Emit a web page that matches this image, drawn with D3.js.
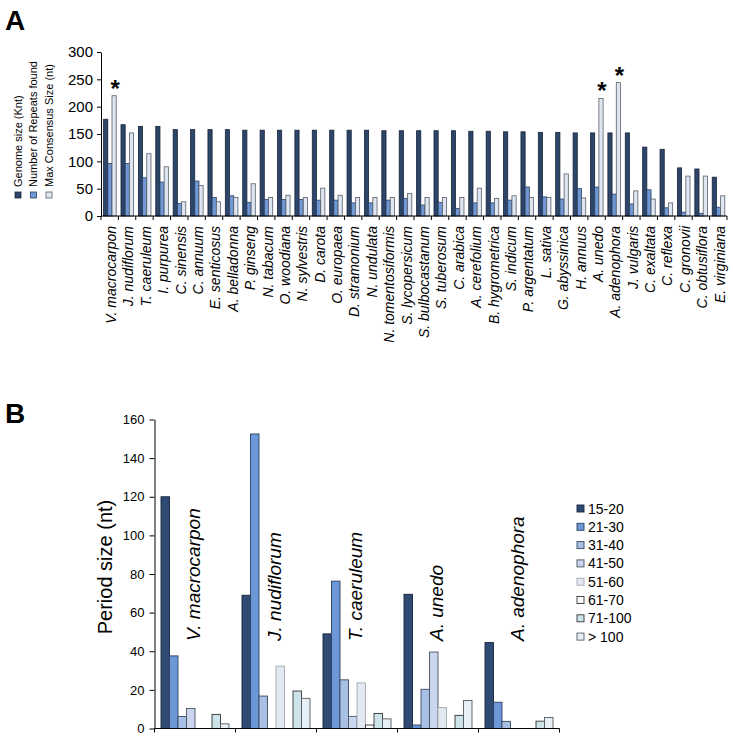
<!DOCTYPE html>
<html>
<head>
<meta charset="utf-8">
<script src="https://cdn.jsdelivr.net/npm/d3@7"></script>
<style>
  html, body { margin: 0; padding: 0; background: #fff; }
  svg { display: block; font-family: "Liberation Sans", Arial, Helvetica, sans-serif; }
</style>
</head>
<body>
<svg id="chart" width="733" height="739"></svg>
<script>
// ---------------- Panel A data ----------------
const speciesA = ["V. macrocarpon","J. nudiflorum","T. caeruleum","I. purpurea","C. sinensis","C. annuum",
  "E. senticosus","A. belladonna","P. ginseng","N. tabacum","O. woodiana","N. sylvestris","D. carota",
  "O. europaea","D. stramonium","N. undulata","N. tomentosiformis","S. lycopersicum","S. bulbocastanum",
  "S. tuberosum","C. arabica","A. cerefolium","B. hygrometrica","S. indicum","P. argentatum","L. sativa",
  "G. abyssinica","H. annuus","A. unedo","A. adenophora","J. vulgaris","C. exaltata","C. reflexa",
  "C. gronovii","C. obtusiflora","E. virginiana"];
const genomeSize = [177,167,164,164,158,158,158,158,157,157,157,157,157,157,157,157,156,156,156,156,
  156,155,155,154,154,153,153,152,152,152,152,126,122,88,86,71];
const repeatsFound = [96,96,70,62,23,64,34,37,25,30,30,30,29,29,24,24,29,32,20,25,
  14,24,24,29,53,35,31,50,53,40,22,48,15,7,5,16];
const maxConsensus = [220,152,114,90,26,56,26,34,59,34,38,34,51,38,34,34,34,41,34,34,
  34,51,32,37,34,34,77,33,215,244,46,31,24,73,73,37];
const starredA = ["V. macrocarpon","A. unedo","A. adenophora"];
const seriesA = ["Genome size (Knt)","Number of Repeats found","Max Consensus Size (nt)"];
const yTicksA = [0,50,100,150,200,250,300];

// ---------------- Panel B data ----------------
const speciesB = ["V. macrocarpon","J. nudiflorum","T. caeruleum","A. unedo","A. adenophora"];
const periodClasses = ["15-20","21-30","31-40","41-50","51-60","61-70","71-100","> 100"];
const p15_20  = [120, 69, 49, 69.5, 44.5];
const p21_30  = [37.6, 152.5, 76.3, 1.8, 13.6];
const p31_40  = [6.2, 16.8, 25.2, 20.3, 3.7];
const p41_50  = [10.4, 0, 6.3, 39.6, 0];
const p51_60  = [0, 32.3, 23.6, 10.9, 0];
const p61_70  = [0, 0, 1.8, 0, 0];
const p71_100 = [7.3, 19.4, 7.8, 6.8, 3.8];
const pOver100 = [2.4, 15.6, 5.0, 14.5, 5.7];
const yTicksB = [0,20,40,60,80,100,120,140,160];

// ---------------- styles ----------------
const fillA = ["#2d4569","#7098d4","#dde6f2"];
const strokeA = ["#17243a","#2b3f60","#5a5f66"];
const fillB = ["#2f4b73","#6d98d8","#a8bfe6","#c9d6ee","#e3e9f3","#ffffff","#cde3ea","#e6f0f6"];
const strokeB = ["#17243a","#2b3f60","#3c4a60","#4a5260","#a4a8ae","#333333","#333333","#555a60"];

const svg = d3.select("#chart");
svg.append("rect").attr("width",733).attr("height",739).attr("fill","#fff");

// Panel letters
svg.append("text").attr("x",5).attr("y",30).attr("font-size",28).attr("font-weight","bold").text("A");
svg.append("text").attr("x",5).attr("y",423).attr("font-size",28).attr("font-weight","bold").text("B");

// ================= Panel A =================
const gA = svg.append("g");
const xA = d3.scaleBand().domain(speciesA).range([101, 727]).padding(0);
const xAin = d3.scaleBand().domain(seriesA).range([2.6, 15.2]).padding(0);
const yA = d3.scaleLinear().domain([0,300]).range([216, 52]);
const seriesValsA = [genomeSize, repeatsFound, maxConsensus];

const rowsA = speciesA.map((s,i) => ({s, vals: seriesValsA.map(a => a[i])}));
const grpA = gA.selectAll("g.grp").data(rowsA).join("g")
  .attr("transform", d => `translate(${xA(d.s)},0)`);
grpA.selectAll("rect").data(d => d.vals.map((v,k) => ({k, v}))).join("rect")
  .attr("x", d => xAin(seriesA[d.k]))
  .attr("width", xAin.bandwidth())
  .attr("y", d => yA(d.v))
  .attr("height", d => yA(0) - yA(d.v))
  .attr("fill", d => fillA[d.k])
  .attr("stroke", d => strokeA[d.k])
  .attr("stroke-width", 0.8);

// asterisks
gA.selectAll("text.star").data(starredA).join("text")
  .attr("class","star")
  .attr("x", s => xA(s) + xAin(seriesA[2]) + xAin.bandwidth()/2 + 1)
  .attr("y", s => yA(maxConsensus[speciesA.indexOf(s)]) + 1)
  .attr("text-anchor","middle")
  .attr("font-size",24).attr("font-weight","bold")
  .text("*");

// y axis A
const yAxisA = gA.append("g").attr("transform","translate(101,0)")
  .call(d3.axisLeft(yA).tickValues(yTicksA).tickSize(4).tickPadding(4).tickSizeOuter(0));
yAxisA.selectAll("text").attr("font-size",15).attr("fill","#000");
yAxisA.selectAll("line,path").attr("stroke","#000");

// x axis A
gA.append("line").attr("x1",101).attr("x2",727).attr("y1",yA(0)).attr("y2",yA(0)).attr("stroke","#000");
const bndA = speciesA.map(s => xA(s)).concat([xA(speciesA[speciesA.length-1]) + xA.bandwidth()]);
gA.selectAll("line.tk").data(bndA).join("line").attr("class","tk")
  .attr("x1", d => d).attr("x2", d => d)
  .attr("y1", yA(0)).attr("y2", yA(0) + 4).attr("stroke","#000");
gA.selectAll("text.lab").data(speciesA).join("text").attr("class","lab")
  .attr("transform", s => `translate(${xA(s) + xA.bandwidth()/2},226) rotate(-90)`)
  .attr("dy","0.45em")
  .attr("text-anchor","end")
  .attr("font-size",14).attr("font-style","italic")
  .text(s => s);

// legend A (rotated)
const legA = gA.append("g");
seriesA.forEach((name, k) => {
  const cx = 18 + k*15.5;
  legA.append("rect").attr("x", cx - 3).attr("y", 192).attr("width",6).attr("height",6)
    .attr("fill", fillA[k]).attr("stroke", strokeA[k]).attr("stroke-width",0.8);
  legA.append("text")
    .attr("transform", `translate(${cx},187) rotate(-90)`)
    .attr("dy","0.35em")
    .attr("font-size",11)
    .text(name);
});

// ================= Panel B =================
const gB = svg.append("g");
const xB = d3.scaleBand().domain(speciesB).range([154.5, 559.5]).padding(0);
const xBin = d3.scaleBand().domain(periodClasses).range([6.5, 74.5]).padding(0);
const yB = d3.scaleLinear().domain([0,160]).range([728.5, 419.5]);
const seriesValsB = [p15_20, p21_30, p31_40, p41_50, p51_60, p61_70, p71_100, pOver100];

const rowsB = speciesB.map((s,i) => ({s, vals: seriesValsB.map(a => a[i])}));
const grpB = gB.selectAll("g.grp").data(rowsB).join("g")
  .attr("transform", d => `translate(${xB(d.s)},0)`);
grpB.selectAll("rect").data(d => d.vals.map((v,k) => ({k, v})).filter(d => d.v > 0)).join("rect")
  .attr("x", d => xBin(periodClasses[d.k]))
  .attr("width", xBin.bandwidth())
  .attr("y", d => yB(d.v))
  .attr("height", d => yB(0) - yB(d.v))
  .attr("fill", d => fillB[d.k])
  .attr("stroke", d => strokeB[d.k])
  .attr("stroke-width", 0.9);

// species labels B
gB.selectAll("text.sp").data(speciesB).join("text").attr("class","sp")
  .attr("transform", s => `translate(${xB(s) + xB.bandwidth()/2 + 5},641) rotate(-90)`)
  .attr("font-size",19).attr("font-style","italic")
  .text(s => s);

// y axis B
const yAxisB = gB.append("g").attr("transform","translate(154.5,0)")
  .call(d3.axisLeft(yB).tickValues(yTicksB).tickSize(5).tickPadding(5).tickSizeOuter(0));
yAxisB.selectAll("text").attr("font-size",13).attr("fill","#000");
yAxisB.selectAll("line,path").attr("stroke","#000");

gB.append("text")
  .attr("transform","translate(112,567) rotate(-90)")
  .attr("text-anchor","middle")
  .attr("font-size",20)
  .text("Period size (nt)");

// x axis B
gB.append("line").attr("x1",154.5).attr("x2",559.5).attr("y1",yB(0)).attr("y2",yB(0)).attr("stroke","#000");
const bndB = speciesB.map(s => xB(s)).concat([559.5]);
gB.selectAll("line.tk").data(bndB).join("line").attr("class","tk")
  .attr("x1", d => d).attr("x2", d => d)
  .attr("y1", yB(0)).attr("y2", yB(0) + 4).attr("stroke","#000");

// legend B
const legB = gB.append("g");
periodClasses.forEach((name, k) => {
  const cy = 508.5 + k*18.3;
  legB.append("rect").attr("x",577).attr("y", cy - 3.5).attr("width",7).attr("height",7)
    .attr("fill", fillB[k]).attr("stroke", strokeB[k]).attr("stroke-width",0.9);
  legB.append("text").attr("x",588).attr("y",cy).attr("dy","0.36em")
    .attr("font-size",14).text(name);
});
</script>
</body>
</html>
